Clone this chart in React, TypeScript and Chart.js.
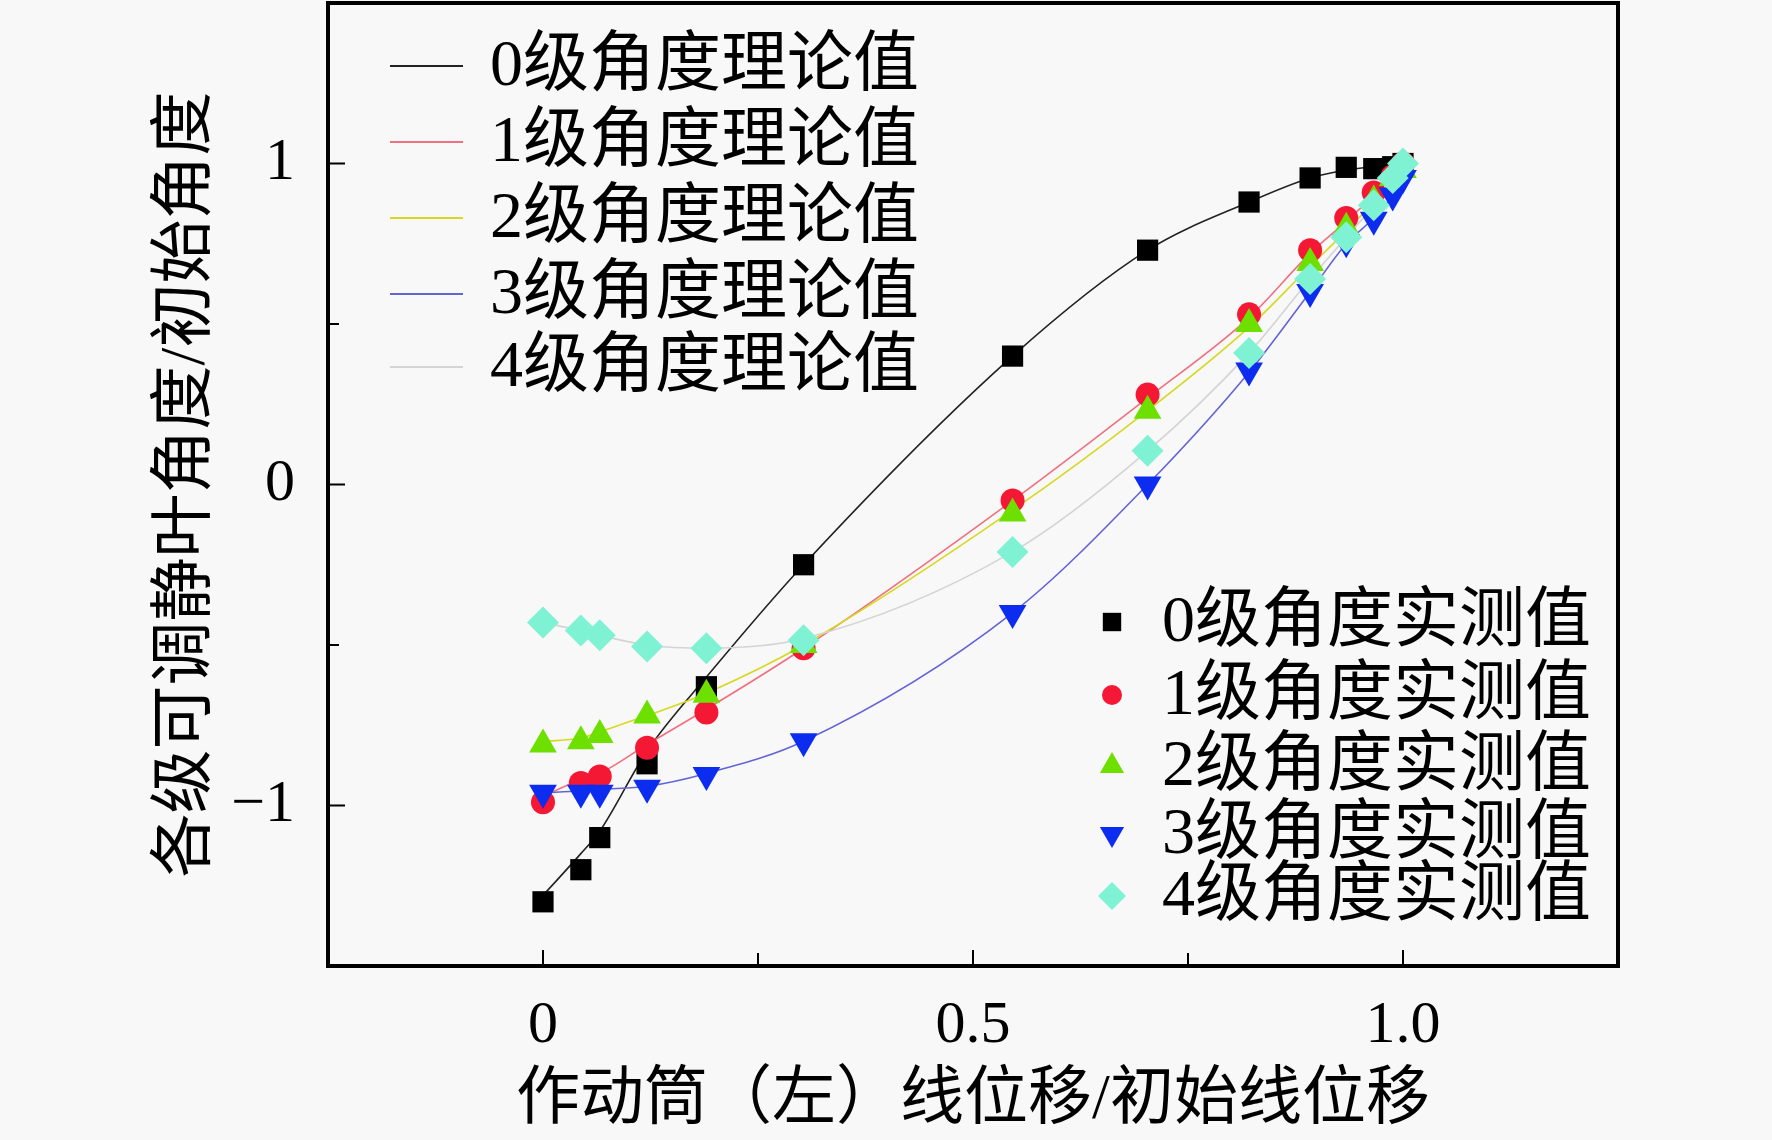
import { useEffect, useRef } from "react"
import { Chart, registerables } from "chart.js"
import { drawPoint } from "chart.js/helpers"

Chart.register(...registerables)

// 作动筒线位移 / 初始线位移
const xPos = [0, 0.044, 0.066, 0.121, 0.19, 0.303, 0.546, 0.703, 0.821, 0.892, 0.934, 0.966, 0.988, 1.0]

// 理论值
const theory0 = [-1.28, -1.15, -1.08, -0.83, -0.6, -0.25, 0.4, 0.73, 0.88, 0.955, 0.98, 0.99, 0.995, 1.0]
const theory1 = [-0.97, -0.92, -0.9, -0.81, -0.7, -0.51, -0.05, 0.27, 0.52, 0.72, 0.82, 0.9, 0.96, 1.0]
const theory2 = [-0.8, -0.79, -0.77, -0.72, -0.65, -0.5, -0.08, 0.23, 0.49, 0.68, 0.79, 0.88, 0.95, 0.98]
const theory3 = [-0.96, -0.955, -0.95, -0.94, -0.9, -0.8, -0.4, 0.0, 0.35, 0.6, 0.75, 0.83, 0.9, 0.96]
const theory4 = [-0.43, -0.455, -0.47, -0.5, -0.51, -0.48, -0.21, 0.105, 0.41, 0.64, 0.77, 0.87, 0.95, 1.0]

// 实测值
const measured0 = [-1.3, -1.2, -1.1, -0.87, -0.63, -0.25, 0.4, 0.73, 0.88, 0.955, 0.988, 0.984, 0.99, 1.0]
const measured1 = [-0.99, -0.93, -0.91, -0.82, -0.71, -0.51, -0.05, 0.28, 0.53, 0.73, 0.83, 0.91, 0.96, 1.0]
const measured2 = [-0.81, -0.8, -0.78, -0.72, -0.655, -0.5, -0.09, 0.23, 0.5, 0.69, 0.8, 0.885, 0.955, 0.98]
const measured3 = [-0.96, -0.96, -0.96, -0.945, -0.905, -0.8, -0.4, 0.0, 0.355, 0.6, 0.755, 0.825, 0.9, 0.955]
const measured4 = [-0.43, -0.455, -0.47, -0.505, -0.51, -0.485, -0.21, 0.105, 0.41, 0.64, 0.77, 0.87, 0.955, 1.0]

const theoryLabels = ["0级角度理论值", "1级角度理论值", "2级角度理论值", "3级角度理论值", "4级角度理论值"]
const measuredLabels = ["0级角度实测值", "1级角度实测值", "2级角度实测值", "3级角度实测值", "4级角度实测值"]
const lineColors = ["#222222", "#f07080", "#d8d820", "#6464d8", "#d4d4d4"]
const markerColors = ["#000000", "#f41834", "#6ee000", "#0c2cf0", "#80f2d4"]
const markerStyles = ["rect", "circle", "triangle", "triangle", "rectRot"]
const markerRotation = [0, 0, 0, 180, 0]
const markerRadius = [15, 12, 16, 16, 16]

const xTickLabels: Record<string, string> = { "0": "0", "0.5": "0.5", "1": "1.0" }
const yTickLabels: Record<string, string> = { "1": "1", "0": "0", "-1": "−1" }

const TEXT_FONT = '"Liberation Serif", "Noto Sans CJK SC", serif'

const toPoints = (ys: number[]) => ys.map((y, i) => ({ x: xPos[i], y }))

const zeroPadding = (s: any) => {
  s.paddingTop = 0
  s.paddingBottom = 0
  s.paddingLeft = 0
  s.paddingRight = 0
}

// 背景、边框和向内的刻度线
const framePlugin = {
  id: "frame",
  beforeDraw(chart: Chart) {
    const { ctx, width, height } = chart
    ctx.save()
    ctx.fillStyle = "#f8f8f8"
    ctx.fillRect(0, 0, width, height)
    ctx.restore()
  },
  afterDraw(chart: Chart) {
    const { ctx, chartArea } = chart
    const { left, right, top, bottom } = chartArea
    const xs = chart.scales.x
    const ys = chart.scales.y
    ctx.save()
    ctx.strokeStyle = "#000"
    ctx.lineWidth = 2
    for (const v of [0, 0.25, 0.5, 0.75, 1.0]) {
      const px = xs.getPixelForValue(v)
      const len = v === 0.25 || v === 0.75 ? 13 : 16
      ctx.beginPath()
      ctx.moveTo(px, bottom)
      ctx.lineTo(px, bottom - len)
      ctx.stroke()
    }
    for (const v of [-1, -0.5, 0, 0.5, 1]) {
      const py = ys.getPixelForValue(v)
      const len = Number.isInteger(v) ? 17 : 11
      ctx.beginPath()
      ctx.moveTo(left, py)
      ctx.lineTo(left + len, py)
      ctx.stroke()
    }
    ctx.lineWidth = 4
    ctx.strokeRect(left, top, right - left, bottom - top)
    ctx.restore()
  },
}

// 两个图例：左上为理论值线，右下为实测值点
const legendPlugin = {
  id: "twoLegends",
  afterDraw(chart: Chart) {
    const { ctx } = chart
    ctx.save()
    ctx.font = `66px ${TEXT_FONT}`
    ctx.textBaseline = "middle"
    ctx.fillStyle = "#000"

    const lineRows = [66, 142, 218, 294, 367]
    theoryLabels.forEach((label, i) => {
      ctx.strokeStyle = lineColors[i]
      ctx.lineWidth = 2
      ctx.beginPath()
      ctx.moveTo(390, lineRows[i])
      ctx.lineTo(463, lineRows[i])
      ctx.stroke()
      ctx.fillStyle = "#000"
      ctx.fillText(label, 490, lineRows[i] + 2)
    })

    const markerRows = [622, 695, 766, 834, 896]
    measuredLabels.forEach((label, i) => {
      ctx.fillStyle = markerColors[i]
      ctx.strokeStyle = markerColors[i]
      drawPoint(
        ctx,
        { pointStyle: markerStyles[i], rotation: markerRotation[i], radius: markerRadius[i] - 2, borderWidth: 0 } as any,
        1112,
        markerRows[i]
      )
      ctx.fillStyle = "#000"
      ctx.fillText(label, 1162, markerRows[i] + 2)
    })
    ctx.restore()
  },
}

export default function App() {
  const canvasRef = useRef<HTMLCanvasElement>(null)

  useEffect(() => {
    document.body.style.margin = "0"
    if (!canvasRef.current) return

    const theorySets = [theory0, theory1, theory2, theory3, theory4].map((ys, i) => ({
      label: theoryLabels[i],
      data: toPoints(ys),
      showLine: true,
      borderColor: lineColors[i],
      borderWidth: 1.6,
      pointRadius: 0,
      cubicInterpolationMode: "monotone" as const,
      order: 20 - i,
    }))

    const measuredSets = [measured0, measured1, measured2, measured3, measured4].map((ys, i) => ({
      label: measuredLabels[i],
      data: toPoints(ys),
      showLine: false,
      backgroundColor: markerColors[i],
      borderColor: markerColors[i],
      borderWidth: 0,
      pointStyle: markerStyles[i],
      rotation: markerRotation[i],
      pointRadius: markerRadius[i],
      order: 5 - i,
    }))

    const chart = new Chart(canvasRef.current, {
      type: "scatter",
      data: { datasets: [...theorySets, ...measuredSets] as any },
      plugins: [framePlugin, legendPlugin],
      options: {
        animation: false,
        responsive: true,
        maintainAspectRatio: false,
        devicePixelRatio: 1,
        layout: { autoPadding: false, padding: { top: 3, right: 154, bottom: 0, left: 0 } },
        plugins: {
          legend: { display: false },
          tooltip: { enabled: false },
        },
        scales: {
          x: {
            type: "linear",
            min: -0.25,
            max: 1.25,
            afterFit: (s: any) => {
              s.height = 174
              zeroPadding(s)
            },
            ticks: {
              stepSize: 0.25,
              autoSkip: false,
              maxRotation: 0,
              padding: 24,
              color: "#000",
              font: { family: TEXT_FONT, size: 60, lineHeight: 1.2 },
              callback: (v: any) => xTickLabels[String(Math.round(Number(v) * 100) / 100)] ?? "",
            },
            grid: { display: false, drawTicks: false },
            border: { display: false },
            title: {
              display: true,
              text: "作动筒（左）线位移/初始线位移",
              color: "#000",
              font: { family: TEXT_FONT, size: 64, lineHeight: 1.2 },
              padding: { top: 0, bottom: 0 },
            },
          },
          y: {
            type: "linear",
            min: -1.5,
            max: 1.5,
            afterFit: (s: any) => {
              s.width = 328
              zeroPadding(s)
            },
            ticks: {
              stepSize: 0.5,
              autoSkip: false,
              padding: 33,
              color: "#000",
              font: { family: TEXT_FONT, size: 60, lineHeight: 1.2 },
              callback: (v: any) => yTickLabels[String(Number(v))] ?? "",
            },
            grid: { display: false, drawTicks: false },
            border: { display: false },
            title: {
              display: true,
              text: "各级可调静叶角度/初始角度",
              color: "#000",
              font: { family: TEXT_FONT, size: 64, lineHeight: 1.2 },
              padding: { top: 149, bottom: 0 },
            },
          },
        },
      },
    })

    return () => {
      chart.destroy()
    }
  }, [])

  return (
    <div style={{ width: 1772, height: 1140, position: "relative" }}>
      <canvas ref={canvasRef} />
    </div>
  )
}
